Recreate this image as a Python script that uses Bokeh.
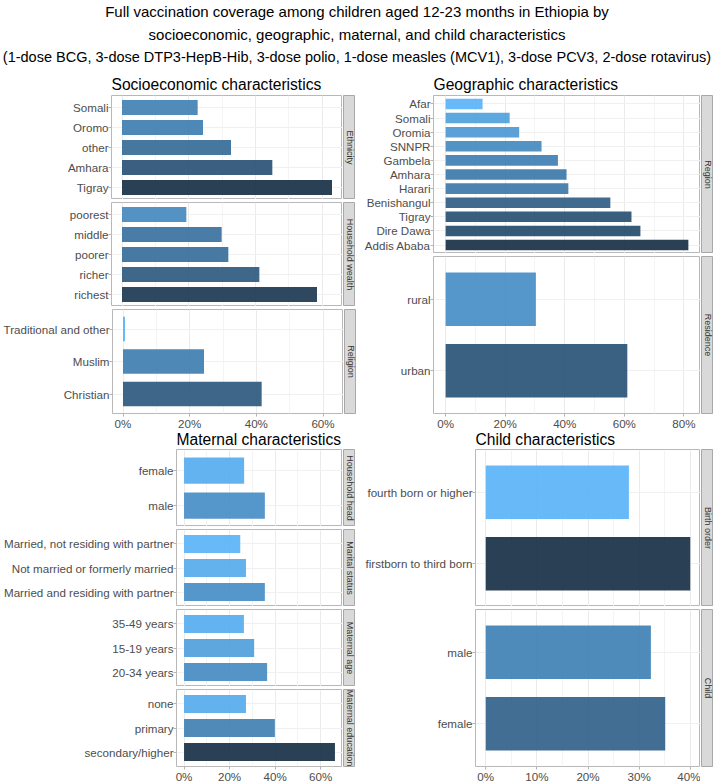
from math import pi
from bokeh.plotting import figure
from bokeh.models import Range1d, FixedTicker, LinearAxis, PrintfTickFormatter, Label, ColumnDataSource
from bokeh.layouts import column, row
from bokeh.embed import file_html
from bokeh.resources import INLINE

FONT = "Liberation Sans"

# ---------------- data (percent full vaccination coverage) ----------------
title_lines = [
    "Full vaccination coverage among children aged 12-23 months in Ethiopia by",
    "socioeconomic, geographic, maternal, and child characteristics",
    "(1-dose BCG, 3-dose DTP3-HepB-Hib, 3-dose polio, 1-dose measles (MCV1), 3-dose PCV3, 2-dose rotavirus)",
]

# Socioeconomic characteristics (listed bottom -> top)
ethnicity_cats = ["Tigray", "Amhara", "other", "Oromo", "Somali"]
ethnicity_vals = [63.0, 45.1, 32.7, 24.3, 22.7]
wealth_cats = ["richest", "richer", "poorer", "middle", "poorest"]
wealth_vals = [58.5, 41.2, 31.9, 29.9, 19.3]
religion_cats = ["Christian", "Muslim", "Traditional and other"]
religion_vals = [41.6, 24.3, 0.6]

# Geographic characteristics
region_cats = ["Addis Ababa", "Dire Dawa", "Tigray", "Benishangul", "Harari", "Amhara",
               "Gambela", "SNNPR", "Oromia", "Somali", "Afar"]
region_vals = [81.5, 65.4, 62.4, 55.3, 41.2, 40.6, 37.7, 32.2, 24.7, 21.5, 12.4]
residence_cats = ["urban", "rural"]
residence_vals = [61.0, 30.3]

# Maternal characteristics
hhhead_cats = ["male", "female"]
hhhead_vals = [35.5, 26.4]
marital_cats = ["Married and residing with partner", "Not married or formerly married",
                "Married, not residing with partner"]
marital_vals = [35.5, 27.2, 24.7]
matage_cats = ["20-34 years", "15-19 years", "35-49 years"]
matage_vals = [36.5, 30.8, 26.3]
mated_cats = ["secondary/higher", "primary", "none"]
mated_vals = [66.3, 39.9, 27.2]

# Child characteristics
birthorder_cats = ["firstborn to third born", "fourth born or higher"]
birthorder_vals = [40.0, 28.0]
child_cats = ["female", "male"]
child_vals = [35.1, 32.3]

# axis ticks (percent)
ticks_socio = [0, 20, 40, 60]
minor_socio = [10, 30, 50]
ticks_geo = [0, 20, 40, 60, 80]
minor_geo = [10, 30, 50, 70]
ticks_mat = [0, 20, 40, 60]
minor_mat = [10, 30, 50]
ticks_child = [0, 10, 20, 30, 40]
minor_child = [5, 15, 25, 35]

LOW, HIGH = "#56B1F7", "#132B43"


# ---------------- colour helpers (Lab interpolation like ggplot) ----------------
def hex_to_rgb(h):
    h = h.lstrip("#")
    return tuple(int(h[i:i + 2], 16) for i in (0, 2, 4))


def srgb_to_lab(rgb):
    def lin(c):
        c = c / 255.0
        return c / 12.92 if c <= 0.04045 else ((c + 0.055) / 1.055) ** 2.4
    r, g, b = (lin(c) for c in rgb)
    X = 0.4124564 * r + 0.3575761 * g + 0.1804375 * b
    Y = 0.2126729 * r + 0.7151522 * g + 0.0721750 * b
    Z = 0.0193339 * r + 0.1191920 * g + 0.9503041 * b
    d = 6 / 29

    def f(t):
        return t ** (1 / 3) if t > d ** 3 else t / (3 * d * d) + 4 / 29
    fx, fy, fz = f(X / 0.95047), f(Y / 1.0), f(Z / 1.08883)
    return (116 * fy - 16, 500 * (fx - fy), 200 * (fy - fz))


def lab_to_hex(L, a, b):
    d = 6 / 29
    fy = (L + 16) / 116
    fx = fy + a / 500
    fz = fy - b / 200

    def finv(t):
        return t ** 3 if t > d else 3 * d * d * (t - 4 / 29)
    X, Y, Z = 0.95047 * finv(fx), finv(fy), 1.08883 * finv(fz)
    r = 3.2404542 * X - 1.5371385 * Y - 0.4985314 * Z
    g = -0.9692660 * X + 1.8760108 * Y + 0.0415560 * Z
    bb = 0.0556434 * X - 0.2040259 * Y + 1.0572252 * Z

    def comp(c):
        c = max(0.0, min(1.0, c))
        c = 12.92 * c if c <= 0.0031308 else 1.055 * c ** (1 / 2.4) - 0.055
        return int(round(c * 255))
    return "#%02x%02x%02x" % (comp(r), comp(g), comp(bb))


LAB_LOW = srgb_to_lab(hex_to_rgb(LOW))
LAB_HIGH = srgb_to_lab(hex_to_rgb(HIGH))


def grad(v, vmin, vmax):
    t = 0.0 if vmax == vmin else (v - vmin) / (vmax - vmin)
    return lab_to_hex(*[lo + (hi - lo) * t for lo, hi in zip(LAB_LOW, LAB_HIGH)])


# ---------------- builders ----------------
def blank_fig(w, h):
    f = figure(width=w, height=h, x_range=Range1d(0, w), y_range=Range1d(h, 0),
               x_axis_location=None, y_axis_location=None, toolbar_location=None,
               output_backend="svg", min_border=0, outline_line_color=None)
    f.grid.visible = False
    return f


def title_fig(text, w, h, x, y):
    f = blank_fig(w, h)
    f.add_layout(Label(x=x, y=y, text=text, text_align="left", text_baseline="middle",
                       text_font=FONT, text_font_size="15.6px", text_color="#000000"))
    return f


def strip_fig(text, h, bottom):
    s = figure(frame_width=12, frame_height=h, x_range=Range1d(0, 1), y_range=Range1d(0, 1),
               x_axis_location=None, y_axis_location=None, toolbar_location=None,
               output_backend="svg", min_border=0, min_border_bottom=bottom,
               background_fill_color="#d9d9d9", outline_line_color="#a8a8a8")
    s.grid.visible = False
    s.add_layout(Label(x=0.5, y=0.5, text=text, angle=-pi / 2, text_align="center",
                       text_baseline="middle", text_font=FONT, text_font_size="9px",
                       text_color="#333333"))
    return s


def build_panel(facets, left, frame_w, heights, axis_border, major, minor):
    all_vals = [v for _, _, vals in facets for v in vals]
    vmin, vmax = min(all_vals), max(all_vals)
    xr = Range1d(-0.05 * vmax, 1.05 * vmax)
    rows = []
    for i, ((strip, cats, vals), h) in enumerate(zip(facets, heights)):
        last = i == len(facets) - 1
        n = len(cats)
        pos = list(range(1, n + 1))
        p = figure(frame_width=frame_w, frame_height=h, x_range=xr,
                   y_range=Range1d(0.4, n + 0.6), x_axis_location=None,
                   y_axis_location="left", toolbar_location=None, output_backend="svg",
                   min_border_left=left, min_border_right=0, min_border_top=0,
                   min_border_bottom=axis_border if last else 0,
                   outline_line_color="#b8b8b8", outline_line_width=1,
                   background_fill_color="white", border_fill_color="white")
        src = ColumnDataSource(dict(y=pos, v=vals, c=[grad(v, vmin, vmax) for v in vals]))
        p.hbar(y="y", left=0, right="v", height=0.75, fill_color="c", fill_alpha=0.9,
               line_color=None, source=src)
        # grids
        p.xgrid.ticker = FixedTicker(ticks=major, minor_ticks=minor)
        p.xgrid.grid_line_color = "#ebebeb"
        p.xgrid.minor_grid_line_color = "#f4f4f4"
        p.ygrid.ticker = FixedTicker(ticks=pos)
        p.ygrid.grid_line_color = "#f0f0f0"
        # y axis
        ya = p.yaxis[0]
        ya.ticker = FixedTicker(ticks=pos)
        ya.major_label_overrides = {k: c for k, c in zip(pos, cats)}
        ya.axis_line_color = None
        ya.major_tick_line_color = "#b3b3b3"
        ya.major_tick_out = 3
        ya.major_tick_in = 0
        ya.minor_tick_line_color = None
        ya.major_label_standoff = 0
        ya.major_label_text_font = FONT
        ya.major_label_text_font_size = "11.6px"
        ya.major_label_text_color = "#4d4d4d"
        if last:
            xa = LinearAxis(ticker=FixedTicker(ticks=major),
                            formatter=PrintfTickFormatter(format="%d%%"))
            xa.axis_line_color = None
            xa.major_tick_line_color = "#b3b3b3"
            xa.major_tick_out = 3
            xa.major_tick_in = 0
            xa.minor_tick_line_color = None
            xa.major_label_standoff = 0
            xa.major_label_text_font = FONT
            xa.major_label_text_font_size = "11.6px"
            xa.major_label_text_color = "#4d4d4d"
            p.add_layout(xa, "below")
        rows.append(row(p, strip_fig(strip, h, axis_border if last else 0), spacing=1))
    return column(rows, spacing=3)


header = blank_fig(713, 72)
for txt, yy, fs in zip(title_lines, [11, 34, 56.5], ["15px", "15px", "14.5px"]):
    header.add_layout(Label(x=356.5, y=yy, text=txt, text_align="center", text_baseline="middle",
                            text_font=FONT, text_font_size=fs, text_color="#000000"))

socio = build_panel([("Ethnicity", ethnicity_cats, ethnicity_vals),
                     ("Household wealth", wealth_cats, wealth_vals),
                     ("Religion", religion_cats, religion_vals)],
                    111, 231, [104, 104, 104], 19, ticks_socio, minor_socio)
geo = build_panel([("Region", region_cats, region_vals),
                   ("Residence", residence_cats, residence_vals)],
                  72, 267, [158, 157], 19, ticks_geo, minor_geo)
mat = build_panel([("Household head", hhhead_cats, hhhead_vals),
                   ("Marital status", marital_cats, marital_vals),
                   ("Maternal age", matage_cats, matage_vals),
                   ("Maternal education", mated_cats, mated_vals)],
                  176, 166, [77, 77, 77, 77], 18, ticks_mat, minor_mat)
chi = build_panel([("Birth order", birthorder_cats, birthorder_vals),
                   ("Child", child_cats, child_vals)],
                  114, 225, [157, 157], 18, ticks_child, minor_child)

left_col = column(title_fig("Socioeconomic characteristics", 355, 23, 111, 12), socio,
                  title_fig("Maternal characteristics", 355, 17, 176, 7), mat)
right_col = column(title_fig("Geographic characteristics", 352, 23, 72, 12), geo,
                   title_fig("Child characteristics", 352, 17, 114, 7), chi)

root = column(header, row(left_col, right_col, spacing=5))

open("out.html", "w").write(file_html(root, INLINE))
